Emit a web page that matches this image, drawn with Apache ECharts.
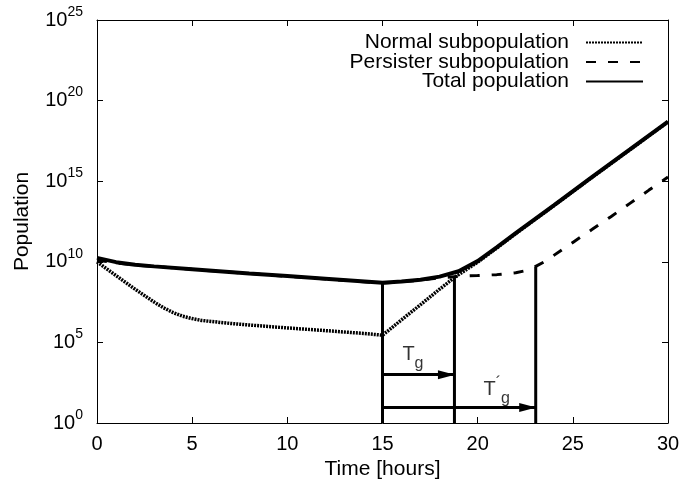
<!DOCTYPE html>
<html><head><meta charset="utf-8">
<script src="https://cdn.jsdelivr.net/npm/echarts@6/dist/echarts.min.js"></script>
<style>html,body{margin:0;padding:0;background:#fff}#c{width:684px;height:493px}</style>
</head><body><div id="c"></div>
<script>
// ---- data ----
const normalTime   = [0, 1, 2, 3, 3.5, 4, 4.5, 5, 5.5, 6, 7, 8, 10, 12, 14, 15, 16, 17, 18, 18.8, 19, 20, 21, 22, 24, 26, 28, 30];
const normalValues = [1.0e10, 1.4e9, 2.0e8, 3.2e7, 1.4e7, 7.1e6, 4.2e6, 3.0e6, 2.3e6, 2.0e6, 1.5e6, 1.2e6, 7.9e5, 5.4e5, 3.6e5, 2.8e5, 2.5e6, 2.2e7, 2.0e8, 1.1e9, 1.6e9, 9.5e9, 7.1e10, 5.6e11, 3.0e13, 1.7e15, 8.9e16, 4.8e18];
const persisterTime   = [0, 1, 2, 5, 10, 15, 16, 17, 18, 19, 20, 21, 22, 22.5, 23, 23.5, 24, 25, 26, 27, 28, 29, 30];
const persisterValues = [1.26e10, 8.5e9, 6.3e9, 3.4e9, 1.26e9, 4.8e8, 5.8e8, 7.2e8, 1.0e9, 1.26e9, 1.4e9, 1.6e9, 2.1e9, 2.8e9, 4.8e9, 1.0e10, 2.5e10, 1.6e11, 1.0e12, 6.3e12, 4.2e13, 2.8e14, 1.8e15];
const totalTime   = [0, 1, 2, 3, 5, 8, 10, 12, 15, 16, 17, 18, 19, 20, 21, 22, 24, 26, 28, 30];
const totalValues = [1.74e10, 9.5e9, 6.6e9, 5.2e9, 3.5e9, 1.9e9, 1.3e9, 8.9e8, 5.0e8, 5.9e8, 7.6e8, 1.2e9, 2.6e9, 1.1e10, 7.9e10, 6.0e11, 3.2e13, 1.8e15, 9.3e16, 5.0e18];
const seriesNames = ['Normal subpopulation', 'Persister subpopulation', 'Total population'];

// annotation marks
const markerTimes = [15, 18.78, 23.05];
const markerTops  = [5.0e8, 1.0e9, 5.0e9];
const arrowStart  = 15;
const arrowEnds   = [18.78, 23.05];
const arrowLevels = [1.0e3, 9];
const labelTimes  = [16.6, 21.0];
const labelLevels = [1.8e4, 1.2e2];
const labelTexts  = ['{T|T}{g|g}', '{T|T}{pr|\u00B4}{g|g}'];

const xTicks = { min: 0, max: 30, step: 5 };
const yTicks = { min: 1, max: 1e25, stepExp: 5 };

const FONT = 'Liberation Sans';
const chart = echarts.init(document.getElementById('c'), null, { renderer: 'canvas' });
const pairs = (xs, ys) => xs.map((x, i) => [x, ys[i]]);

const axisLineStyle = { color: '#000', width: 1 };
const series = [
  { name: seriesNames[0], type: 'line', data: pairs(normalTime, normalValues), symbol: 'none',
    lineStyle: { color: '#000', width: 3.5, type: [2, 1] }, itemStyle: { color: '#000' }, z: 2 },
  { name: seriesNames[1], type: 'line', data: pairs(persisterTime, persisterValues), symbol: 'none',
    lineStyle: { color: '#000', width: 3, type: [10, 12] }, itemStyle: { color: '#000' }, z: 3 },
  { name: seriesNames[2], type: 'line', data: pairs(totalTime, totalValues), symbol: 'none',
    lineStyle: { color: '#000', width: 4 }, itemStyle: { color: '#000' }, z: 4 }
];
markerTimes.forEach((t, i) => {
  series.push({ type: 'line', data: [[t, yTicks.min], [t, markerTops[i]]], symbol: 'none',
    lineStyle: { color: '#000', width: 3 }, z: 5, silent: true });
});
series.push({
  type: 'line', data: [], symbol: 'none', z: 6, silent: true,
  markLine: {
    silent: true, animation: false,
    symbol: ['none', 'triangle'], symbolSize: [9, 17], symbolOffset: [[0, 0], [0, 8]],
    lineStyle: { color: '#000', width: 3, type: 'solid' },
    itemStyle: { color: '#000' },
    label: { show: false },
    data: arrowEnds.map((e, i) => [{ coord: [arrowStart, arrowLevels[i]] }, { coord: [e, arrowLevels[i]] }])
  }
});
series.push({
  type: 'scatter', data: pairs(labelTimes, labelLevels), symbolSize: 1, silent: true, z: 7,
  itemStyle: { color: 'transparent' },
  label: {
    show: true, position: 'inside', color: '#000',
    formatter: p => labelTexts[p.dataIndex],
    rich: {
      T: { fontSize: 20, fontFamily: FONT, color: '#000' },
      g: { fontSize: 16, fontFamily: FONT, color: '#000', padding: [19, 0, 0, 0] },
      pr: { fontSize: 16, fontFamily: FONT, color: '#000', padding: [0, 0, 12, 0] }
    }
  }
});

const yLabelRich = {
  b: { fontSize: 20, fontFamily: FONT, color: '#000' },
  s: { fontSize: 14, fontFamily: FONT, color: '#000', padding: [0, 0, 16, 0] }
};

chart.setOption({
  animation: false,
  backgroundColor: '#fff',
  textStyle: { fontFamily: FONT },
  grid: { left: 97, right: 16, top: 20, bottom: 70, containLabel: false },
  legend: {
    data: seriesNames, orient: 'vertical', align: 'right', right: 35, top: 27,
    itemWidth: 57, itemHeight: 12, itemGap: -1.5,
    itemStyle: { opacity: 0 },
    textStyle: { fontSize: 21, fontFamily: FONT, color: '#000', lineHeight: 19, padding: [0, 12, 0, 0] }
  },
  xAxis: [
    { type: 'value', min: xTicks.min, max: xTicks.max, interval: xTicks.step, position: 'bottom',
      name: 'Time [hours]', nameLocation: 'middle', nameGap: 33,
      nameTextStyle: { fontSize: 21, fontFamily: FONT, color: '#000' },
      axisLine: { show: true, onZero: false, lineStyle: axisLineStyle },
      axisTick: { show: true, inside: true, length: 6, lineStyle: axisLineStyle },
      axisLabel: { fontSize: 20, fontFamily: FONT, color: '#000', margin: 11 },
      splitLine: { show: false } },
    { type: 'value', min: xTicks.min, max: xTicks.max, interval: xTicks.step, position: 'top',
      axisLine: { show: true, onZero: false, lineStyle: axisLineStyle },
      axisTick: { show: true, inside: true, length: 6, lineStyle: axisLineStyle },
      axisLabel: { show: false }, splitLine: { show: false } }
  ],
  yAxis: [
    { type: 'log', logBase: 10, min: yTicks.min, max: yTicks.max, interval: yTicks.stepExp, position: 'left',
      name: 'Population', nameLocation: 'middle', nameGap: 64,
      nameTextStyle: { fontSize: 21, fontFamily: FONT, color: '#000' },
      axisLine: { show: true, onZero: false, lineStyle: axisLineStyle },
      axisTick: { show: true, inside: true, length: 6, lineStyle: axisLineStyle },
      minorTick: { show: false },
      axisLabel: { margin: 14, formatter: v => '{b|10}{s|' + Math.round(Math.log10(v)) + '}', rich: yLabelRich },
      splitLine: { show: false } },
    { type: 'log', logBase: 10, min: yTicks.min, max: yTicks.max, interval: yTicks.stepExp, position: 'right',
      axisLine: { show: true, onZero: false, lineStyle: axisLineStyle },
      axisTick: { show: true, inside: true, length: 6, lineStyle: axisLineStyle },
      axisLabel: { show: false }, splitLine: { show: false } }
  ],
  series: series
});
</script></body></html>
